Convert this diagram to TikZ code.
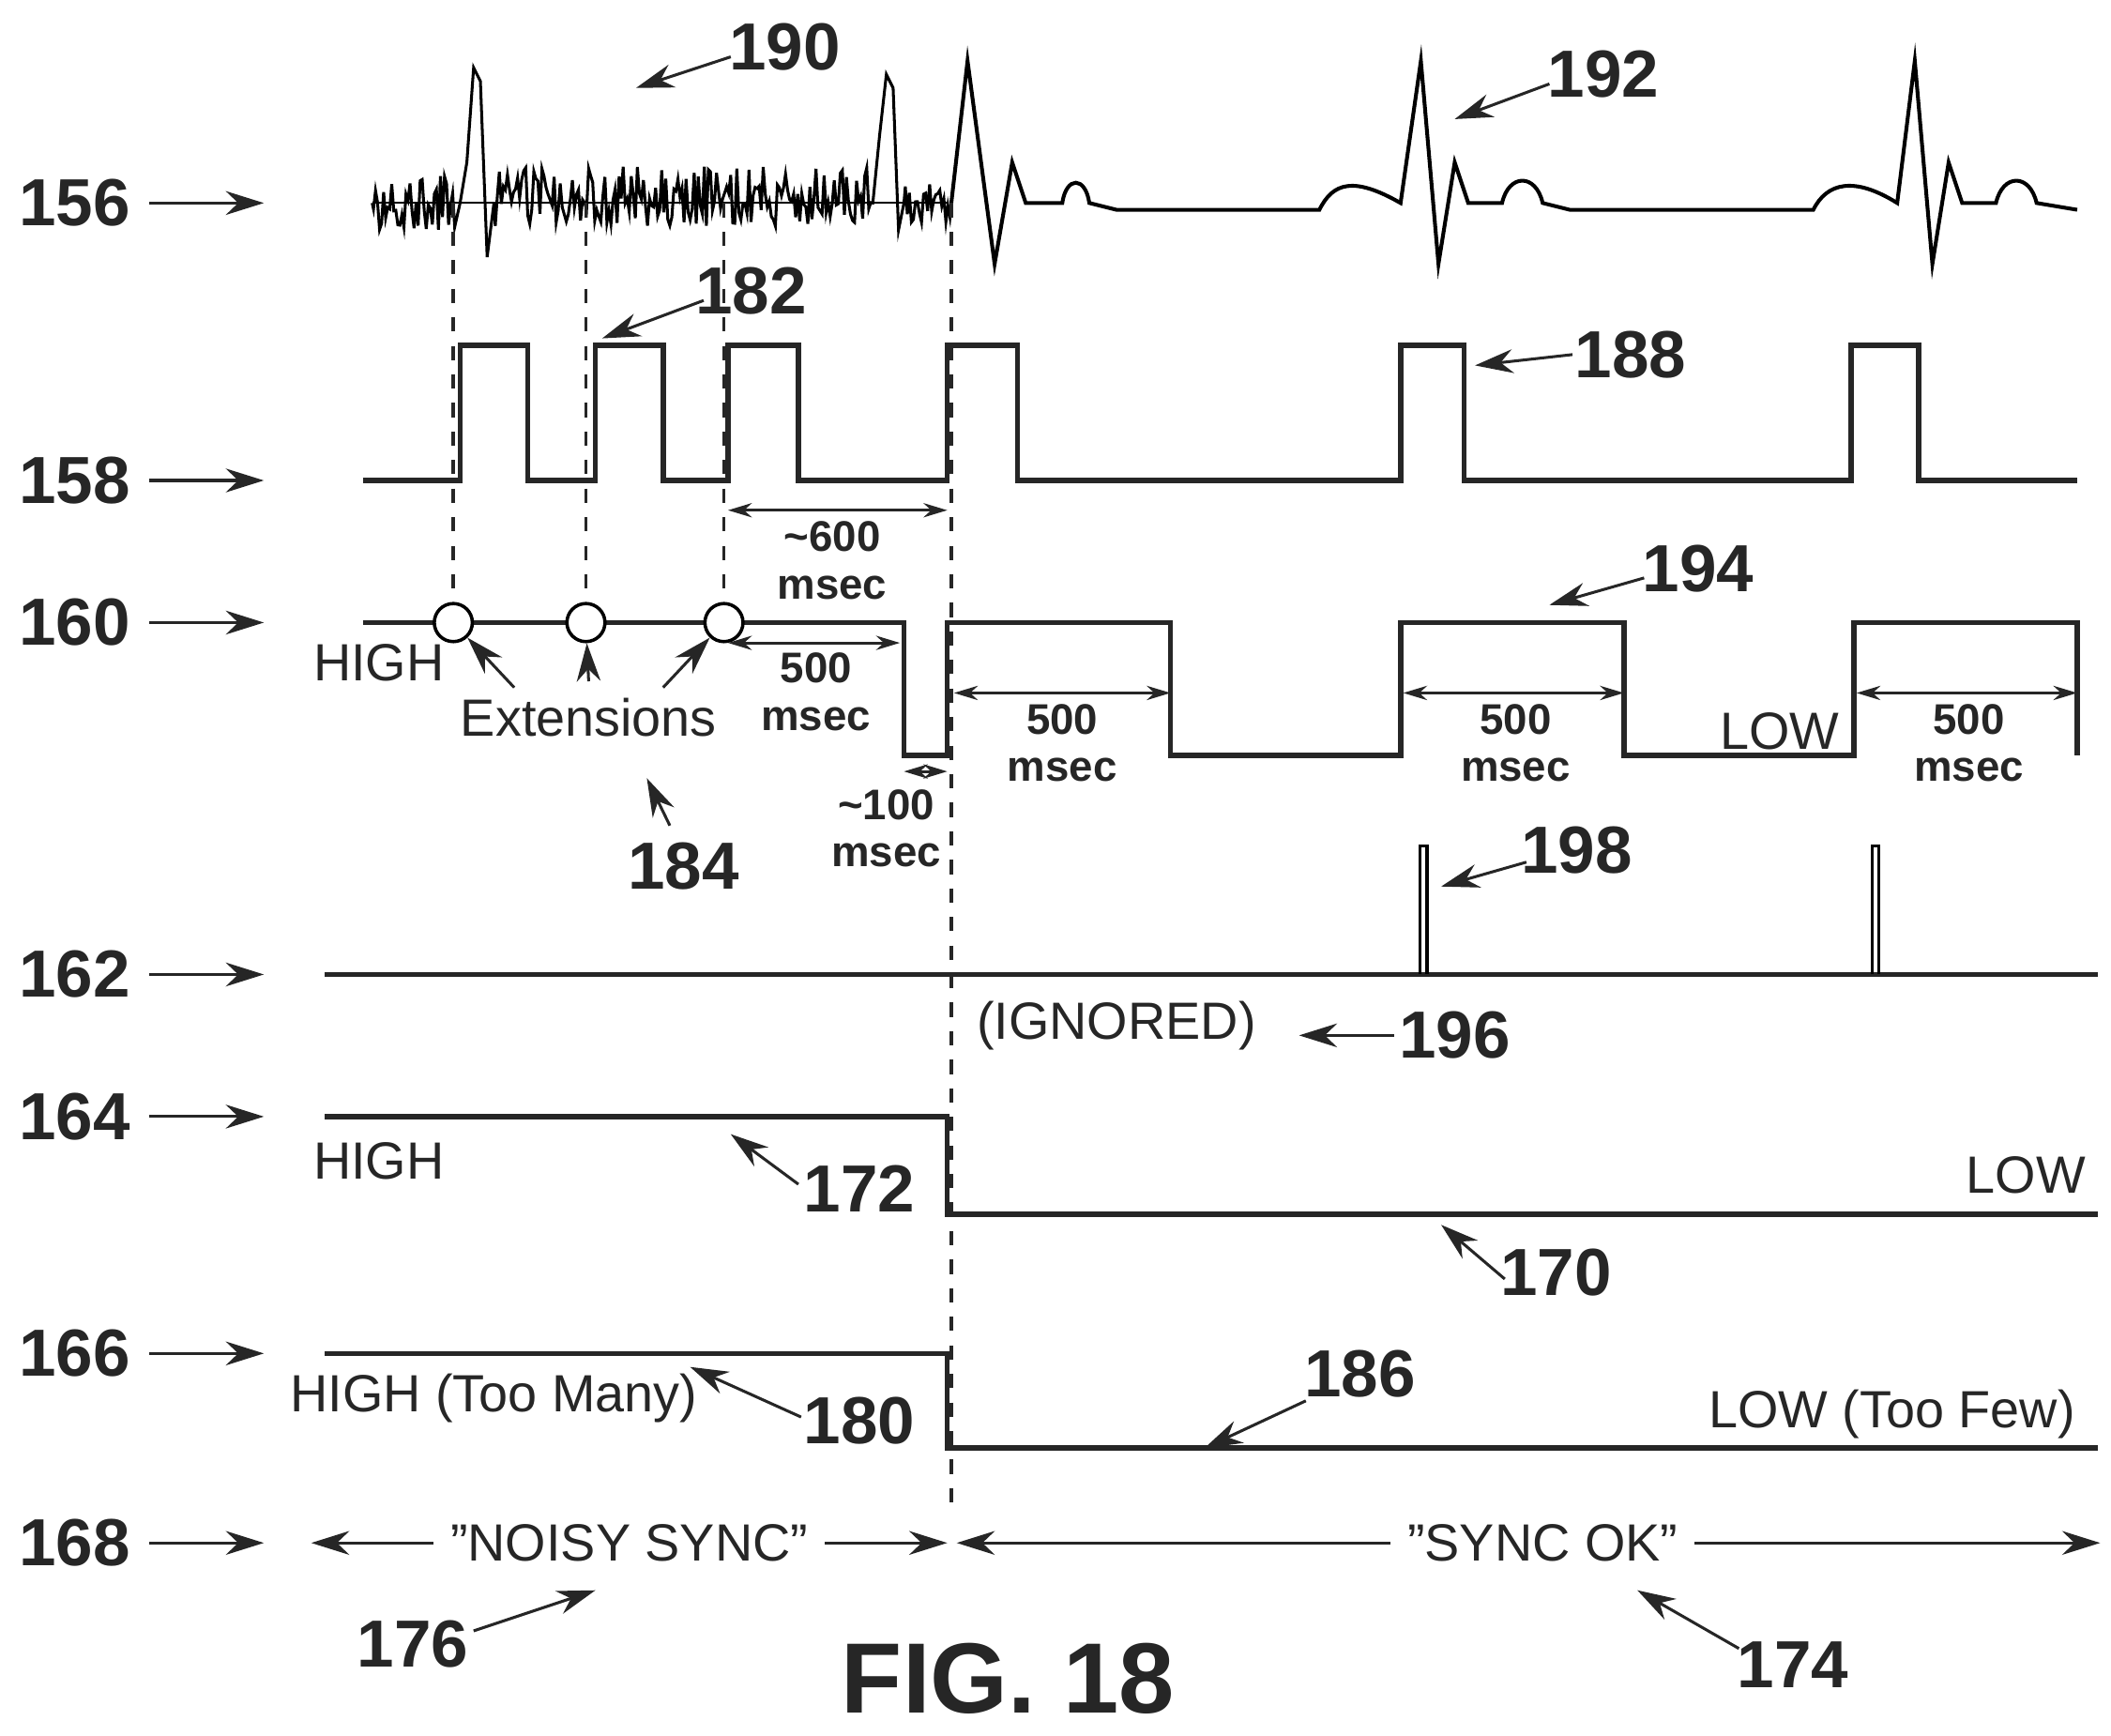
\documentclass[tikz,border=0pt]{standalone}
\usepackage{fontspec}
\setmainfont{Liberation Sans}
\usetikzlibrary{arrows.meta}
\begin{document}
\begin{tikzpicture}[x=0.01cm,y=-0.01cm,
 sig/.style={line width=1.1pt,draw=black!85},
 big/.style={font=\fontsize{14}{14}\selectfont\bfseries,text=black!85},
 sm/.style={font=\fontsize{9}{10}\selectfont,text=black!85,align=center},
 md/.style={font=\fontsize{11}{11}\selectfont,text=black!85},
 lab/.style={-{Stealth[length=8pt,width=5pt]},line width=0.6pt,draw=black!85},
 dim/.style={{Stealth[length=5pt,width=3pt]}-{Stealth[length=5pt,width=3pt]},line width=0.6pt,draw=black!85},
 dsh/.style={dashed,line width=0.7pt,draw=black!85}]
\useasboundingbox (0,0) rectangle (1560,1282);
% row labels
\foreach \n/\y in {156/150,158/355,160/460,162/720,164/825,166/1000,168/1140}{
 \node[big] (r\n) at (55,\y) {\n};
 \coordinate (ra\n) at (110,\y); \coordinate (rb\n) at (195,\y);
 \draw[lab] (ra\n) -- (rb\n);}
% ECG noise
\pgfmathsetseed{7}
\draw[line width=0.4pt] (275,150) -- (700,150);
\draw[line width=0.6pt] (275,150)
 \foreach \i in {0,...,40}{ -- ({276+\i*1.5},{150+rand*20})} -- (340,150) -- (345,120) -- (350,50) -- (355,60) -- (360,190) -- (365,150)
 \foreach \i in {0,...,185}{ -- ({366+\i*1.5},{145+rand*22})} -- (645,150) -- (650,100) -- (655,55) -- (660,65) -- (664,170) -- (668,150)
 \foreach \i in {0,...,22}{ -- ({669+\i*1.5},{150+rand*16})} -- (703,150);
% ECG complexes
\draw[line width=0.8pt] (703,150) -- (715,45) -- (735,195) -- (748,120) -- (758,150) -- (785,150)
 .. controls (788,130) and (802,130) .. (805,150) -- (825,155) -- (975,155)
 .. controls (985,135) and (1000,130) .. (1035,150) -- (1050,45) -- (1063,195) -- (1075,120) -- (1085,150) -- (1110,150)
 .. controls (1115,128) and (1135,128) .. (1140,150) -- (1160,155) -- (1340,155)
 .. controls (1350,135) and (1370,130) .. (1402,150) -- (1415,45) -- (1428,195) -- (1440,120) -- (1450,150) -- (1475,150)
 .. controls (1480,128) and (1500,128) .. (1505,150) -- (1535,155);
% row 158
\draw[sig] (268,355) -- (340,355) -- (340,255) -- (390,255) -- (390,355) -- (440,355) -- (440,255) -- (490,255) -- (490,355) -- (538,355) -- (538,255) -- (590,255) -- (590,355) -- (700,355) -- (700,255) -- (752,255) -- (752,355) -- (1035,355) -- (1035,255) -- (1082,255) -- (1082,355) -- (1368,355) -- (1368,255) -- (1418,255) -- (1418,355) -- (1535,355);
% row 160
\draw[sig] (268,460) -- (668,460) -- (668,558) -- (700,558) -- (700,460) -- (865,460) -- (865,558) -- (1035,558) -- (1035,460) -- (1200,460) -- (1200,558) -- (1370,558) -- (1370,460) -- (1535,460) -- (1535,558);
% dashed
\foreach \x/\n in {335/a,433/b,535/c}{\draw[dsh] (\x,150) -- (\x,453);
 \node[circle,draw,fill=white,inner sep=0pt,minimum size=8pt,line width=0.7pt] (c\n) at (\x,460) {};}
\draw[dsh] (703,150) -- (703,1118);
% row 162
\draw[sig] (240,720) -- (1550,720);
\foreach \x in {1052,1386}{\draw[line width=0.7pt] (\x-2.5,720) -- (\x-2.5,625) -- (\x+2.5,625) -- (\x+2.5,720);}
% rows 164,166
\draw[sig] (240,825) -- (700,825) -- (700,897) -- (1550,897);
\draw[sig] (240,1000) -- (700,1000) -- (700,1070) -- (1550,1070);
% row 168
\node[md] (ns) at (465,1140) {\symbol{34}NOISY SYNC\symbol{34}};
\node[md] (so) at (1140,1140) {\symbol{34}SYNC OK\symbol{34}};
\draw[lab] (ns.west) -- (230,1140);
\draw[lab] (ns.east) -- (700,1140);
\draw[lab] (so.west) -- (707,1140);
\draw[lab] (so.east) -- (1552,1140);
% texts
\node[md] (h1) at (280,490) {HIGH};
\node[md] (h2) at (280,858) {HIGH};
\node[md] (h3) at (365,1033) {HIGH (Too Many)};
\node[md] (l1) at (1315,540) {LOW};
\node[md] (l2) at (1497,868) {LOW};
\node[md] (l3) at (1398,1045) {LOW (Too Few)};
\node[md] (ig) at (825,758) {(IGNORED)};
\node[md] (ex) at (435,530) {Extensions};
\draw[lab] (380,508) -- (ca); \draw[lab] (ex.north) -- (cb); \draw[lab] (490,508) -- (cc);
% dims
\coordinate (d1a) at (538,377); \coordinate (d1b) at (700,377); \draw[dim] (d1a) -- (d1b);
\node[sm] (t600) at (615,414) {\bfseries\textasciitilde600\\\bfseries msec};
\coordinate (d2a) at (538,475); \coordinate (d2b) at (665,475); \draw[dim] (d2a) -- (d2b);
\node[sm] (t500a) at (603,511) {\bfseries 500\\\bfseries msec};
\coordinate (d3a) at (668,570); \coordinate (d3b) at (700,570); \draw[dim] (d3a) -- (d3b);
\node[sm] (t100) at (655,612) {\bfseries\textasciitilde100\\\bfseries msec};
\foreach \a/\b/\c/\n in {705/865/785/b,1037/1200/1120/c,1372/1535/1455/d}{
 \coordinate (e\n a) at (\a,512); \coordinate (e\n b) at (\b,512); \draw[dim] (e\n a) -- (e\n b);
 \node[sm] (t500\n) at (\c,549) {\bfseries 500\\\bfseries msec};}
% callouts
\foreach \n/\x/\y/\ax/\ay/\bx/\by in {
 190/580/35/540/42/470/65, 192/1185/55/1145/62/1075/88, 182/555/215/520/222/445/250,
 188/1205/262/1162/262/1090/270, 194/1255/420/1215/427/1145/447, 198/1165/628/1128/637/1065/655,
 196/1075/765/1030/765/960/765, 172/635/878/590/875/540/838, 170/1150/940/1112/945/1065/905,
 180/635/1050/592/1047/510/1010, 186/1005/1015/965/1035/890/1070, 176/305/1215/350/1205/440/1175,
 174/1325/1230/1285/1218/1210/1175, 184/505/640/495/610/478/575}{
 \node[big] (n\n) at (\x,\y) {\n};
 \coordinate (p\n) at (\ax,\ay); \coordinate (q\n) at (\bx,\by);
 \draw[lab] (p\n) -- (q\n);}
\node[font=\fontsize{21}{21}\selectfont\bfseries,text=black!85] (fig) at (745,1240) {FIG. 18};
\end{tikzpicture}
\end{document}
